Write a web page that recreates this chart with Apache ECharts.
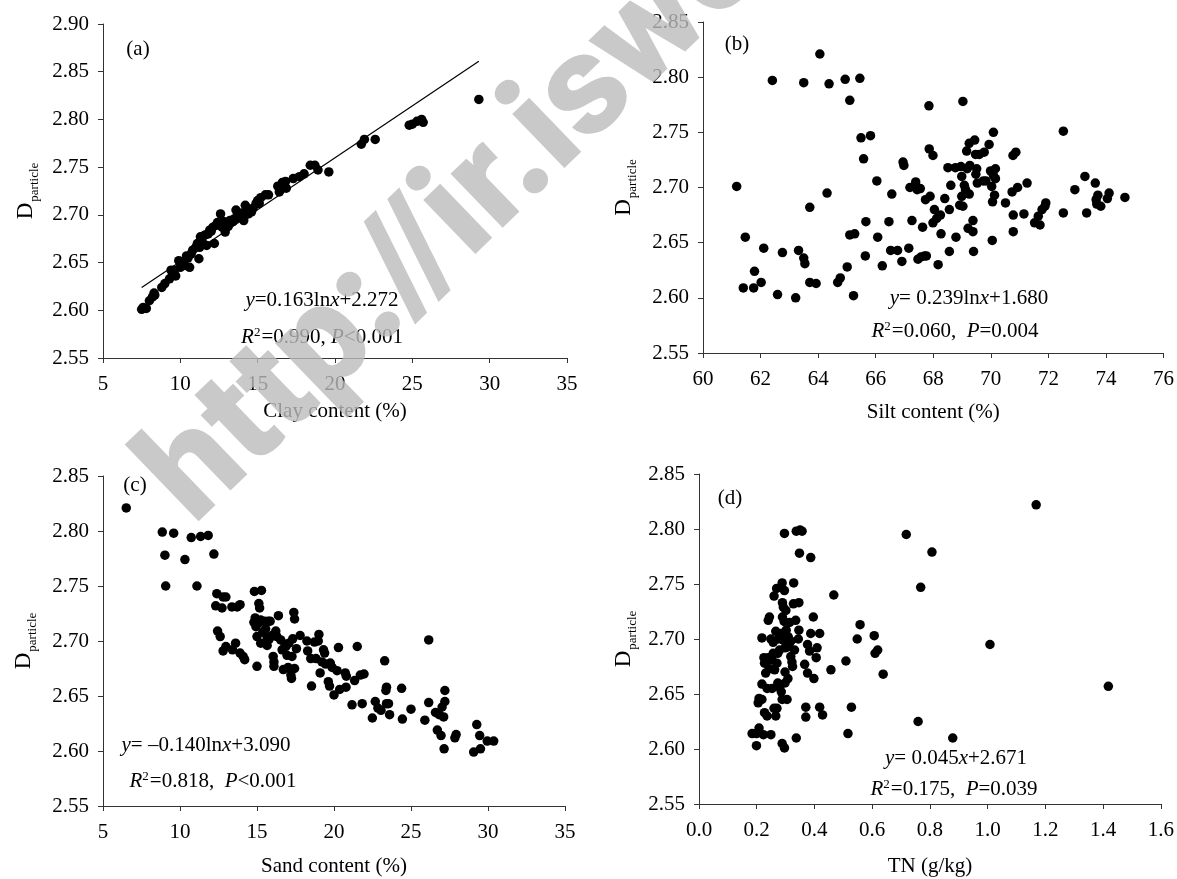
<!DOCTYPE html>
<html><head><meta charset="utf-8">
<script src="https://cdn.jsdelivr.net/npm/echarts@6/dist/echarts.min.js"></script>
<style>html,body{margin:0;padding:0;background:#fff}#c{width:1177px;height:879px}</style>
</head><body><div id="c"></div>
<script>
const FONT = 'Liberation Serif';

// (a) Clay content vs D
const clayPoints = [[7.5,2.601],[7.6,2.603],[7.8,2.602],[8.0,2.610],[8.2,2.614],[8.3,2.618],[8.35,2.616],[8.8,2.624],[9.0,2.628],[9.3,2.633],[9.4,2.642],[9.5,2.638],[9.6,2.642],[9.7,2.636],[9.9,2.652],[10.0,2.645],[10.2,2.650],[10.3,2.647],[10.4,2.657],[10.5,2.655],[10.6,2.645],[10.7,2.659],[10.8,2.663],[11.0,2.666],[11.1,2.670],[11.2,2.654],[11.25,2.666],[11.3,2.677],[11.4,2.673],[11.6,2.679],[11.7,2.668],[11.8,2.680],[11.9,2.684],[12.0,2.683],[12.1,2.687],[12.2,2.670],[12.3,2.689],[12.4,2.692],[12.5,2.690],[12.6,2.701],[12.7,2.687],[12.8,2.693],[12.9,2.682],[13.0,2.691],[13.1,2.688],[13.2,2.694],[13.4,2.693],[13.5,2.696],[13.6,2.705],[13.7,2.697],[13.8,2.700],[13.9,2.698],[14.0,2.702],[14.1,2.694],[14.2,2.710],[14.4,2.701],[14.5,2.705],[14.6,2.703],[14.7,2.707],[14.9,2.712],[15.0,2.715],[15.1,2.712],[15.2,2.718],[15.5,2.721],[15.7,2.721],[16.3,2.730],[16.4,2.724],[16.5,2.727],[16.6,2.734],[16.8,2.735],[16.85,2.728],[17.3,2.738],[17.7,2.740],[18.0,2.743],[18.4,2.752],[18.7,2.752],[18.9,2.747],[19.6,2.745],[21.7,2.774],[21.9,2.779],[22.6,2.779],[24.8,2.794],[25.0,2.795],[25.3,2.798],[25.6,2.800],[25.7,2.797],[29.3,2.821]];
const clayFitX = [7.5, 29.3];
const clayFitY = [2.624, 2.861];

// (b) Silt content vs D
const siltPoints = [[61.17,2.701],[61.40,2.609],[61.47,2.655],[61.76,2.609],[61.79,2.624],[62.02,2.614],[62.11,2.645],[62.41,2.797],[62.59,2.603],[62.76,2.641],[63.22,2.600],[63.32,2.643],[63.50,2.795],[63.50,2.636],[63.54,2.631],[63.71,2.682],[63.71,2.614],[63.93,2.613],[64.06,2.821],[64.31,2.695],[64.38,2.794],[64.68,2.614],[64.77,2.618],[64.94,2.798],[65.01,2.628],[65.10,2.779],[65.10,2.657],[65.27,2.658],[65.23,2.602],[65.45,2.799],[65.49,2.745],[65.58,2.726],[65.64,2.638],[65.66,2.669],[65.82,2.747],[66.04,2.706],[66.07,2.655],[66.23,2.629],[66.46,2.669],[66.52,2.643],[66.56,2.694],[66.76,2.643],[66.91,2.633],[66.95,2.723],[66.98,2.720],[67.15,2.645],[67.19,2.700],[67.26,2.670],[67.39,2.705],[67.44,2.698],[67.47,2.635],[67.55,2.699],[67.57,2.637],[67.63,2.664],[67.70,2.638],[67.73,2.689],[67.76,2.638],[67.85,2.774],[67.86,2.735],[67.89,2.692],[67.99,2.729],[67.99,2.668],[68.04,2.680],[68.12,2.672],[68.17,2.630],[68.25,2.675],[68.27,2.658],[68.40,2.690],[68.51,2.718],[68.56,2.680],[68.56,2.642],[68.61,2.702],[68.79,2.655],[68.77,2.718],[68.92,2.684],[68.96,2.719],[68.99,2.692],[68.99,2.710],[69.03,2.778],[69.03,2.683],[69.08,2.702],[69.12,2.698],[69.16,2.733],[69.18,2.717],[69.21,2.663],[69.25,2.694],[69.25,2.740],[69.27,2.720],[69.38,2.670],[69.38,2.660],[69.40,2.642],[69.44,2.743],[69.47,2.730],[69.48,2.712],[69.51,2.717],[69.53,2.704],[69.60,2.730],[69.74,2.706],[69.77,2.732],[69.83,2.706],[69.94,2.739],[69.99,2.715],[70.03,2.701],[70.05,2.652],[70.06,2.687],[70.09,2.750],[70.09,2.711],[70.13,2.693],[70.16,2.717],[70.16,2.708],[70.51,2.686],[70.74,2.696],[70.77,2.729],[70.78,2.675],[70.78,2.660],[70.87,2.732],[70.93,2.700],[71.15,2.676],[71.26,2.704],[71.52,2.668],[71.65,2.674],[71.71,2.666],[71.78,2.680],[71.88,2.683],[71.91,2.686],[72.52,2.751],[72.52,2.677],[72.92,2.698],[73.27,2.710],[73.33,2.677],[73.63,2.704],[73.66,2.689],[73.68,2.685],[73.72,2.693],[73.82,2.683],[74.05,2.690],[74.11,2.695],[74.66,2.691]];

// (c) Sand content vs D
const sandPoints = [[6.51,2.821],[8.85,2.799],[9.02,2.778],[9.07,2.750],[9.59,2.798],[10.32,2.774],[10.73,2.794],[11.10,2.750],[11.34,2.795],[11.83,2.796],[12.20,2.779],[12.32,2.732],[12.39,2.743],[12.44,2.709],[12.61,2.704],[12.73,2.730],[12.80,2.740],[12.80,2.691],[12.98,2.740],[12.98,2.695],[13.37,2.731],[13.41,2.692],[13.61,2.698],[13.71,2.731],[13.90,2.733],[13.90,2.689],[14.10,2.686],[14.20,2.683],[14.80,2.717],[14.83,2.745],[14.88,2.721],[14.93,2.713],[15.00,2.677],[15.00,2.704],[15.07,2.716],[15.12,2.734],[15.17,2.730],[15.24,2.719],[15.24,2.698],[15.29,2.746],[15.37,2.708],[15.49,2.718],[15.56,2.711],[15.66,2.703],[15.66,2.696],[15.73,2.718],[15.80,2.702],[15.85,2.718],[15.98,2.705],[16.05,2.686],[16.10,2.681],[16.10,2.677],[16.22,2.709],[16.29,2.704],[16.39,2.723],[16.54,2.701],[16.63,2.692],[16.71,2.674],[16.83,2.697],[16.88,2.695],[16.95,2.687],[17.02,2.676],[17.07,2.698],[17.20,2.669],[17.24,2.666],[17.27,2.686],[17.32,2.702],[17.39,2.726],[17.44,2.720],[17.44,2.675],[17.56,2.693],[17.80,2.705],[18.24,2.700],[18.29,2.691],[18.49,2.684],[18.54,2.659],[18.73,2.699],[18.83,2.684],[18.98,2.700],[19.02,2.706],[19.10,2.671],[19.22,2.681],[19.32,2.692],[19.39,2.689],[19.46,2.679],[19.63,2.663],[19.71,2.659],[19.76,2.680],[19.88,2.676],[20.00,2.651],[20.20,2.673],[20.29,2.694],[20.37,2.656],[20.73,2.671],[20.78,2.658],[20.80,2.668],[21.17,2.642],[21.34,2.664],[21.51,2.695],[21.71,2.669],[21.83,2.643],[21.95,2.670],[22.49,2.630],[22.68,2.645],[22.85,2.639],[23.05,2.637],[23.29,2.682],[23.37,2.655],[23.41,2.658],[23.41,2.643],[23.54,2.643],[23.61,2.633],[24.39,2.657],[24.44,2.629],[25.00,2.638],[25.90,2.628],[26.15,2.701],[26.15,2.644],[26.59,2.635],[26.71,2.619],[26.83,2.633],[26.95,2.614],[27.02,2.640],[27.12,2.631],[27.15,2.602],[27.20,2.645],[27.20,2.655],[27.85,2.612],[27.93,2.615],[29.07,2.599],[29.27,2.624],[29.46,2.614],[29.51,2.602],[29.95,2.609],[30.37,2.609]];

// (d) TN vs D
const tnPoints = [[0.184,2.614],[0.199,2.603],[0.199,2.614],[0.208,2.619],[0.205,2.642],[0.208,2.646],[0.218,2.645],[0.218,2.701],[0.218,2.659],[0.223,2.613],[0.227,2.678],[0.225,2.683],[0.227,2.633],[0.231,2.669],[0.236,2.630],[0.236,2.655],[0.240,2.683],[0.240,2.717],[0.244,2.673],[0.244,2.720],[0.249,2.613],[0.249,2.700],[0.253,2.655],[0.253,2.681],[0.257,2.687],[0.257,2.697],[0.260,2.739],[0.260,2.637],[0.262,2.672],[0.266,2.707],[0.266,2.630],[0.269,2.746],[0.270,2.637],[0.270,2.678],[0.273,2.687],[0.273,2.660],[0.275,2.700],[0.279,2.656],[0.279,2.690],[0.283,2.705],[0.285,2.652],[0.288,2.645],[0.288,2.605],[0.288,2.751],[0.289,2.733],[0.289,2.720],[0.292,2.699],[0.292,2.729],[0.295,2.716],[0.296,2.796],[0.296,2.744],[0.296,2.601],[0.298,2.670],[0.298,2.692],[0.298,2.660],[0.301,2.726],[0.302,2.708],[0.305,2.645],[0.308,2.664],[0.309,2.702],[0.311,2.693],[0.314,2.715],[0.318,2.698],[0.318,2.684],[0.322,2.679],[0.324,2.675],[0.327,2.732],[0.328,2.751],[0.331,2.690],[0.335,2.717],[0.337,2.610],[0.337,2.798],[0.344,2.700],[0.346,2.733],[0.346,2.708],[0.348,2.778],[0.350,2.799],[0.357,2.798],[0.366,2.677],[0.370,2.638],[0.370,2.629],[0.376,2.669],[0.376,2.695],[0.383,2.689],[0.387,2.705],[0.387,2.774],[0.396,2.720],[0.398,2.664],[0.406,2.683],[0.409,2.692],[0.418,2.705],[0.418,2.638],[0.428,2.631],[0.457,2.672],[0.467,2.740],[0.509,2.680],[0.516,2.614],[0.528,2.638],[0.548,2.700],[0.558,2.713],[0.607,2.703],[0.610,2.687],[0.619,2.690],[0.638,2.668],[0.718,2.795],[0.759,2.625],[0.768,2.747],[0.807,2.779],[0.879,2.610],[1.008,2.695],[1.168,2.822],[1.418,2.657]];

const panelLabels = ['(a)', '(b)', '(c)', '(d)'];
const xNames = ['Clay content (%)', 'Silt content (%)', 'Sand content (%)', 'TN (g/kg)'];
const yName = '{D|D}{s|particle}';
const xRanges = [[5, 35, 5], [60, 76, 2], [5, 35, 5], [0, 1.6, 0.2]];
const yRanges = [[2.55, 2.90, 0.05], [2.55, 2.85, 0.05], [2.55, 2.85, 0.05], [2.55, 2.85, 0.05]];
const xDecimals = [0, 0, 0, 1];
const equations = ['{i|y}{n|=0.163ln}{i|x}{n|+2.272}', '{i|y}{n|= 0.239ln}{i|x}{n|+1.680}', '{i|y}{n|= \u20130.140ln}{i|x}{n|+3.090}', '{i|y}{n|= 0.045}{i|x}{n|+2.671}'];
const stats = ['{i|R}{sup|2}{n|=0.990, }{i|P}{n|<0.001}', '{i|R}{sup|2}{n|=0.060,  }{i|P}{n|=0.004}', '{i|R}{sup|2}{n|=0.818,  }{i|P}{n|<0.001}', '{i|R}{sup|2}{n|=0.175,  }{i|P}{n|=0.039}'];
const watermark = 'http://ir.iswc.ac.cn';

// layout
const grids = [
  {left: 103, top: 24, width: 464, height: 334},
  {left: 703, top: 22, width: 462, height: 331},
  {left: 103, top: 476, width: 462, height: 330},
  {left: 699, top: 474, width: 462, height: 330}
];
const xNameGaps = [43, 49, 50, 52];
const yNameGaps = [66, 68, 68, 64];
const labelPos = [[138, 49], [737, 44], [135, 485], [730, 498]];
const eqPos = [[322, 300], [969, 298], [206, 745], [956, 758]];
const statPos = [[322, 337], [955, 331], [213, 781], [954, 789]];

const richText = {
  n: {fontFamily: FONT, fontSize: 21, fill: '#000'},
  i: {fontFamily: FONT, fontSize: 21, fontStyle: 'italic', fill: '#000'},
  sup: {fontFamily: FONT, fontSize: 13, fill: '#000', verticalAlign: 'top', padding: [0, 1, 8, 0]}
};

const axisLine = {show: true, lineStyle: {color: '#333', width: 1}};
const axisTick = {show: true, inside: false, length: 5, lineStyle: {color: '#333', width: 1}};

const xAxes = xRanges.map((r, i) => ({
  type: 'value', gridIndex: i, min: r[0], max: r[1], interval: r[2],
  axisLine, axisTick, splitLine: {show: false},
  axisLabel: {margin: 16, fontFamily: FONT, fontSize: 21, color: '#000',
    showMinLabel: true, showMaxLabel: true,
    formatter: v => v.toFixed(xDecimals[i])},
  name: xNames[i], nameLocation: 'middle', nameGap: xNameGaps[i],
  nameTextStyle: {fontFamily: FONT, fontSize: 21, color: '#000'}
}));
const yAxes = yRanges.map((r, i) => ({
  type: 'value', gridIndex: i, min: r[0], max: r[1], interval: r[2],
  axisLine, axisTick, splitLine: {show: false},
  axisLabel: {margin: 14, fontFamily: FONT, fontSize: 21, color: '#000',
    showMinLabel: true, showMaxLabel: true,
    formatter: v => v.toFixed(2)},
  name: yName, nameLocation: 'middle', nameGap: yNameGaps[i], nameRotate: 90,
  nameTextStyle: {rich: {
    D: {fontFamily: FONT, fontSize: 23, lineHeight: 23, color: '#000', verticalAlign: 'top'},
    s: {fontFamily: FONT, fontSize: 13, lineHeight: 13, color: '#000', verticalAlign: 'top', padding: [14, 0, 0, 1]}
  }}
}));

const dot = {symbol: 'circle', symbolSize: 9.5, itemStyle: {color: '#000', opacity: 1}};
const series = [
  Object.assign({type: 'scatter', xAxisIndex: 0, yAxisIndex: 0, data: clayPoints}, dot),
  {type: 'line', xAxisIndex: 0, yAxisIndex: 0, data: clayFitX.map((x, k) => [x, clayFitY[k]]),
   symbol: 'none', lineStyle: {color: '#000', width: 1.2}, z: 3},
  Object.assign({type: 'scatter', xAxisIndex: 1, yAxisIndex: 1, data: siltPoints}, dot),
  Object.assign({type: 'scatter', xAxisIndex: 2, yAxisIndex: 2, data: sandPoints}, dot),
  Object.assign({type: 'scatter', xAxisIndex: 3, yAxisIndex: 3, data: tnPoints}, dot)
];

const graphics = [];
for (let i = 0; i < 4; i++) {
  graphics.push({type: 'text', x: labelPos[i][0], y: labelPos[i][1], z: 10,
    style: {text: panelLabels[i], fontFamily: FONT, fontSize: 21, fill: '#000', align: 'center', verticalAlign: 'middle'}});
  graphics.push({type: 'text', x: eqPos[i][0], y: eqPos[i][1], z: 10,
    style: {text: equations[i], rich: richText, fontFamily: FONT, fontSize: 21, fill: '#000', align: 'center', verticalAlign: 'middle'}});
  graphics.push({type: 'text', x: statPos[i][0], y: statPos[i][1], z: 10,
    style: {text: stats[i], rich: richText, fontFamily: FONT, fontSize: 21, fill: '#000', align: 'center', verticalAlign: 'middle'}});
}
// watermark
graphics.push({type: 'text', x: 219, y: 551, rotation: 44 * Math.PI / 180, z: 100, silent: true,
  style: {text: watermark, fontFamily: 'Roboto, Liberation Sans', fontWeight: 900, fontSize: 142,
    fill: 'rgb(187,187,187)', opacity: 0.8,
    align: 'left', verticalAlign: 'bottom'}});

const chart = echarts.init(document.getElementById('c'), null, {renderer: 'canvas'});
chart.setOption({
  animation: false,
  backgroundColor: '#fff',
  grid: grids,
  xAxis: xAxes,
  yAxis: yAxes,
  series: series,
  graphic: graphics
});
</script>
</body></html>
